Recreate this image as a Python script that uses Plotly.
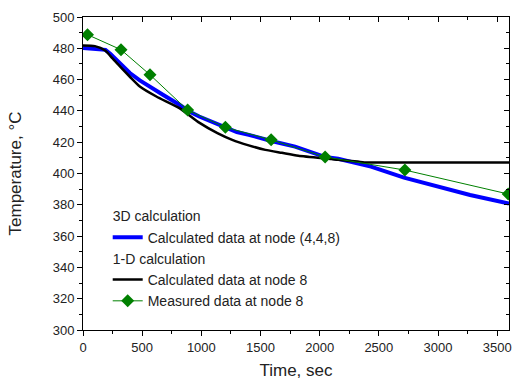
import plotly.graph_objects as go

# 3D calculation at node (4,4,8)
t_3d = [0, 100, 190, 230, 312, 396, 480, 536, 620, 675, 815, 899, 982, 1094, 1206, 1300, 1401, 1500, 1591, 1792, 2043, 2156, 2322, 2434, 2713, 2992, 3271, 3600]
T_3d = [480.2, 479.8, 479.0, 476.5, 470.0, 464.2, 459.5, 456.7, 452.5, 450.3, 443.9, 439.6, 436.4, 432.8, 429.0, 426.5, 424.7, 422.6, 420.8, 417.2, 410.6, 409.4, 406.6, 404.4, 397.4, 391.7, 386.3, 380.8]

# 1-D calculation at node 8
t_1d = [0, 100, 187, 250, 312, 400, 480, 620, 815, 982, 1136, 1261, 1400, 1541, 1680, 1820, 2099, 2156, 2322, 2378, 2700, 3600]
T_1d = [481.8, 481.4, 478.6, 473.5, 468.4, 461.5, 455.6, 449.2, 441.8, 432.5, 425.8, 421.5, 418.0, 415.1, 413.2, 411.3, 409.2, 408.7, 407.6, 407.1, 407.0, 407.0]

# Measured data at node 8
t_meas = [38, 321, 566, 884, 1203, 1590, 2046, 2720, 3593]
T_meas = [488.7, 479.1, 463.1, 440.5, 429.5, 421.5, 410.6, 402.2, 386.9]

FONT = "Arial, Liberation Sans, sans-serif"

fig = go.Figure()
fig.add_trace(go.Scatter(
    x=t_3d, y=T_3d, mode="lines", name="Calculated data at node (4,4,8)",
    line=dict(color="#0000FF", width=4),
    legendgroup="g3d", legendgrouptitle=dict(text="3D calculation", font=dict(size=14, family=FONT, color="#222"))))
fig.add_trace(go.Scatter(
    x=t_1d, y=T_1d, mode="lines", name="Calculated data at node 8",
    line=dict(color="#000000", width=2.5, shape="spline", smoothing=0.6),
    legendgroup="g1d", legendgrouptitle=dict(text="1-D calculation", font=dict(size=14, family=FONT, color="#222"))))
fig.add_trace(go.Scatter(
    x=t_meas, y=T_meas, mode="lines+markers", name="Measured data at node 8",
    line=dict(color="#008000", width=1),
    marker=dict(symbol="diamond", size=10, color="#008000"),
    legendgroup="g1d"))
# helper trace for mirrored top/right axes
fig.add_trace(go.Scatter(x=[None], y=[None], xaxis="x2", yaxis="y2", showlegend=False, hoverinfo="skip"))

axis_common = dict(showgrid=False, zeroline=False, showline=True, linecolor="black", linewidth=1,
                   tickcolor="black", tickfont=dict(size=13, family=FONT, color="#222"))

fig.update_layout(
    width=515, height=380,
    margin=dict(l=83, r=3, t=17, b=50),
    paper_bgcolor="white", plot_bgcolor="white",
    font=dict(family=FONT, color="#222"),
    showlegend=True,
    legend=dict(x=0.058, y=0.414, xanchor="left", yanchor="top", bgcolor="rgba(0,0,0,0)",
                font=dict(size=14, family=FONT, color="#222"), tracegroupgap=0, traceorder="grouped"),
    xaxis=dict(range=[0, 3600], tick0=0, dtick=500, ticks="outside", ticklen=5, ticklabeloverflow="allow",
               minor=dict(dtick=250, ticks="outside", ticklen=3, tickcolor="black"),
               title=dict(text="Time, sec", font=dict(size=17, family=FONT, color="#222"), standoff=10),
               **axis_common),
    yaxis=dict(range=[300, 500], tick0=300, dtick=20, ticks="outside", ticklen=5,
               minor=dict(dtick=10, ticks="outside", ticklen=3, tickcolor="black"),
               title=dict(text="Temperature, °C", font=dict(size=17, family=FONT, color="#222"), standoff=26),
               **axis_common),
    xaxis2=dict(range=[0, 3600], overlaying="x", side="top", anchor="y", tick0=0, dtick=500,
                ticks="inside", ticklen=5, showticklabels=False,
                minor=dict(dtick=250, ticks="inside", ticklen=3, tickcolor="black"),
                **axis_common),
    yaxis2=dict(range=[300, 500], overlaying="y", side="right", anchor="x", tick0=300, dtick=20,
                ticks="inside", ticklen=5, showticklabels=False,
                minor=dict(dtick=10, ticks="inside", ticklen=3, tickcolor="black"),
                **axis_common),
)

fig.write_html("out.html", config={"displayModeBar": False},
               post_script="document.body.style.margin='0';document.body.style.overflow='hidden';")
